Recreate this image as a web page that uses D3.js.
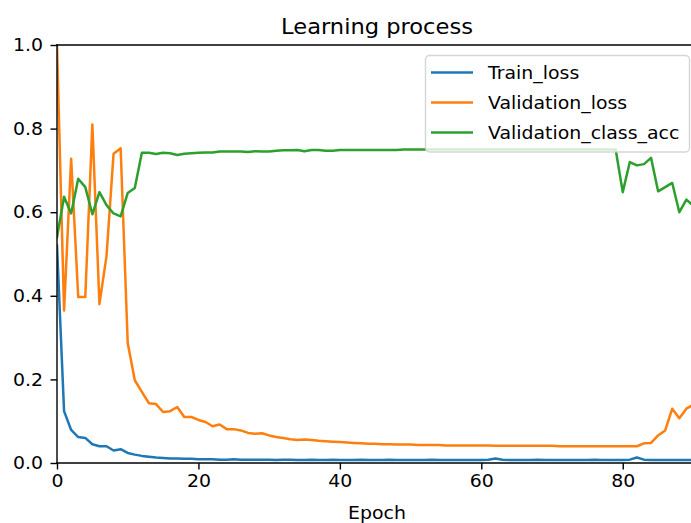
<!DOCTYPE html>
<html>
<head>
<meta charset="utf-8">
<script src="https://cdn.jsdelivr.net/npm/d3@7"></script>
<style>
  html, body { margin: 0; padding: 0; background: #fff; }
  svg { display: block; font-family: "DejaVu Sans", sans-serif; }
</style>
</head>
<body>
<div id="chart"></div>
<script>
// ---- data (epoch index = position in array) ----
const seriesNames = ["Train_loss", "Validation_loss", "Validation_class_acc"];
const seriesColors = ["#1f77b4", "#ff7f0e", "#2ca02c"];

const trainLoss = [
  0.52, 0.124, 0.079, 0.062, 0.060, 0.045, 0.040, 0.040, 0.030, 0.033,
  0.024, 0.020, 0.017, 0.015, 0.013, 0.012, 0.011, 0.011, 0.010, 0.010,
  0.009, 0.009, 0.009, 0.008, 0.008, 0.009, 0.008, 0.008, 0.008, 0.008,
  0.008, 0.007, 0.008, 0.008, 0.007, 0.007, 0.008, 0.007, 0.007, 0.008,
  0.007, 0.007, 0.007, 0.008, 0.007, 0.007, 0.007, 0.008, 0.007, 0.007,
  0.007, 0.007, 0.007, 0.008, 0.007, 0.007, 0.007, 0.007, 0.007, 0.007,
  0.007, 0.008, 0.011, 0.008, 0.007, 0.007, 0.007, 0.007, 0.008, 0.007,
  0.007, 0.007, 0.007, 0.007, 0.007, 0.007, 0.008, 0.007, 0.007, 0.007,
  0.007, 0.008, 0.013, 0.008, 0.007, 0.007, 0.007, 0.007, 0.007, 0.007,
  0.007
];

const validationLoss = [
  1.000, 0.365, 0.728, 0.397, 0.397, 0.810, 0.380, 0.495, 0.740, 0.753,
  0.287, 0.198, 0.170, 0.143, 0.141, 0.122, 0.124, 0.134, 0.110, 0.110,
  0.103, 0.098, 0.088, 0.092, 0.081, 0.081, 0.078, 0.072, 0.070, 0.071,
  0.066, 0.062, 0.060, 0.057, 0.055, 0.056, 0.055, 0.053, 0.052, 0.051,
  0.050, 0.049, 0.048, 0.047, 0.046, 0.046, 0.045, 0.045, 0.044, 0.044,
  0.044, 0.043, 0.043, 0.043, 0.043, 0.042, 0.042, 0.042, 0.042, 0.042,
  0.042, 0.042, 0.041, 0.041, 0.041, 0.041, 0.041, 0.041, 0.041, 0.041,
  0.041, 0.040, 0.040, 0.040, 0.040, 0.040, 0.040, 0.040, 0.040, 0.040,
  0.040, 0.040, 0.040, 0.047, 0.048, 0.066, 0.078, 0.130, 0.107, 0.130,
  0.140
];

const validationClassAcc = [
  0.540, 0.637, 0.597, 0.680, 0.660, 0.595, 0.648, 0.617, 0.597, 0.590,
  0.646, 0.658, 0.742, 0.742, 0.739, 0.742, 0.741, 0.737, 0.740, 0.741,
  0.742, 0.743, 0.743, 0.745, 0.745, 0.745, 0.745, 0.744, 0.746, 0.745,
  0.745, 0.747, 0.748, 0.748, 0.749, 0.746, 0.749, 0.749, 0.747, 0.747,
  0.749, 0.749, 0.749, 0.749, 0.749, 0.749, 0.749, 0.749, 0.749, 0.750,
  0.750, 0.750, 0.750, 0.750, 0.750, 0.750, 0.750, 0.750, 0.750, 0.750,
  0.750, 0.750, 0.750, 0.750, 0.750, 0.750, 0.750, 0.750, 0.750, 0.750,
  0.750, 0.750, 0.750, 0.750, 0.750, 0.750, 0.750, 0.750, 0.750, 0.750,
  0.648, 0.720, 0.712, 0.715, 0.730, 0.650, 0.660, 0.670, 0.600, 0.630,
  0.615
];

const xTicks = [0, 20, 40, 60, 80];
const yTicks = [0.0, 0.2, 0.4, 0.6, 0.8, 1.0];
const titleText = "Learning process";
const xLabelText = "Epoch";

// ---- layout ----
const W = 691, H = 523;
const plot = { left: 57, top: 45, right: 697, bottom: 463 };
const SX = 1.05; // horizontal text stretch seen in the reference

const svg = d3.select("#chart").append("svg")
  .attr("width", W).attr("height", H);

const x = d3.scaleLinear().domain([0, 90.5]).range([plot.left, plot.right]);
const y = d3.scaleLinear().domain([0, 1]).range([plot.bottom, plot.top]);

svg.append("defs").append("clipPath").attr("id", "clip")
  .append("rect")
  .attr("x", plot.left).attr("y", plot.top)
  .attr("width", plot.right - plot.left).attr("height", plot.bottom - plot.top);

// ---- lines ----
const allSeries = [trainLoss, validationLoss, validationClassAcc];
const line = d3.line().x((d, i) => x(i)).y(d => y(d));
const gLines = svg.append("g").attr("clip-path", "url(#clip)");
allSeries.forEach((s, k) => {
  gLines.append("path")
    .datum(s)
    .attr("d", line)
    .attr("fill", "none")
    .attr("stroke", seriesColors[k])
    .attr("stroke-width", 2.5)
    .attr("stroke-linejoin", "round")
    .attr("stroke-linecap", "square");
});

// helper: stretched text placed at (px, py)
function stext(parent, px, py, str, size, anchor) {
  return parent.append("text")
    .attr("transform", `translate(${px},${py}) scale(${SX},1)`)
    .attr("text-anchor", anchor || "start")
    .style("font-size", size + "px")
    .attr("fill", "#000")
    .text(str);
}

// ---- axes ----
const xAxis = d3.axisBottom(x).tickValues(xTicks).tickFormat(d3.format("d"))
  .tickSize(6.5).tickPadding(5);
const yAxis = d3.axisLeft(y).tickValues(yTicks).tickFormat(d3.format(".1f"))
  .tickSize(6.5).tickPadding(7.5);

const gx = svg.append("g").attr("transform", `translate(0,${plot.bottom})`).call(xAxis);
const gy = svg.append("g").attr("transform", `translate(${plot.left},0)`).call(yAxis);
[gx, gy].forEach(g => {
  g.select(".domain").remove();
  g.selectAll(".tick line").attr("stroke", "#000").attr("stroke-width", 1.4);
  g.selectAll(".tick text").attr("fill", "#000")
    .style("font-family", "DejaVu Sans").style("font-size", "18px");
});
gx.selectAll(".tick text").attr("transform", `scale(${SX},1)`)
  .attr("x", 0);
gy.selectAll(".tick text").each(function () {
  const t = d3.select(this);
  const xx = +t.attr("x");
  t.attr("x", xx / SX).attr("transform", `scale(${SX},1)`);
});

// spines
const spine = svg.append("g").attr("stroke", "#000").attr("stroke-width", 1.4)
  .attr("fill", "none").attr("stroke-linecap", "square");
spine.append("line").attr("x1", plot.left).attr("x2", plot.left).attr("y1", plot.top).attr("y2", plot.bottom);
spine.append("line").attr("x1", plot.left).attr("x2", plot.right).attr("y1", plot.bottom).attr("y2", plot.bottom);
spine.append("line").attr("x1", plot.left).attr("x2", plot.right).attr("y1", plot.top).attr("y2", plot.top);
spine.append("line").attr("x1", plot.right).attr("x2", plot.right).attr("y1", plot.top).attr("y2", plot.bottom);

// ---- title and label ----
stext(svg, (plot.left + plot.right) / 2, 34, titleText, 21.5, "middle");
stext(svg, (plot.left + plot.right) / 2, 519, xLabelText, 18, "middle");

// ---- legend ----
const leg = svg.append("g");
leg.append("rect")
  .attr("x", 425.5).attr("y", 55.5).attr("width", 264).attr("height", 96.5)
  .attr("rx", 4).attr("ry", 4)
  .attr("fill", "rgba(255,255,255,0.8)")
  .attr("stroke", "#cccccc").attr("stroke-opacity", 0.8).attr("stroke-width", 1.4);
const rowY = [72.5, 102.5, 132.5];
seriesNames.forEach((name, k) => {
  leg.append("line")
    .attr("x1", 431).attr("x2", 473).attr("y1", rowY[k]).attr("y2", rowY[k])
    .attr("stroke", seriesColors[k]).attr("stroke-width", 2.5);
  stext(leg, 488, rowY[k] + 6.5, name, 18, "start");
});
</script>
</body>
</html>
